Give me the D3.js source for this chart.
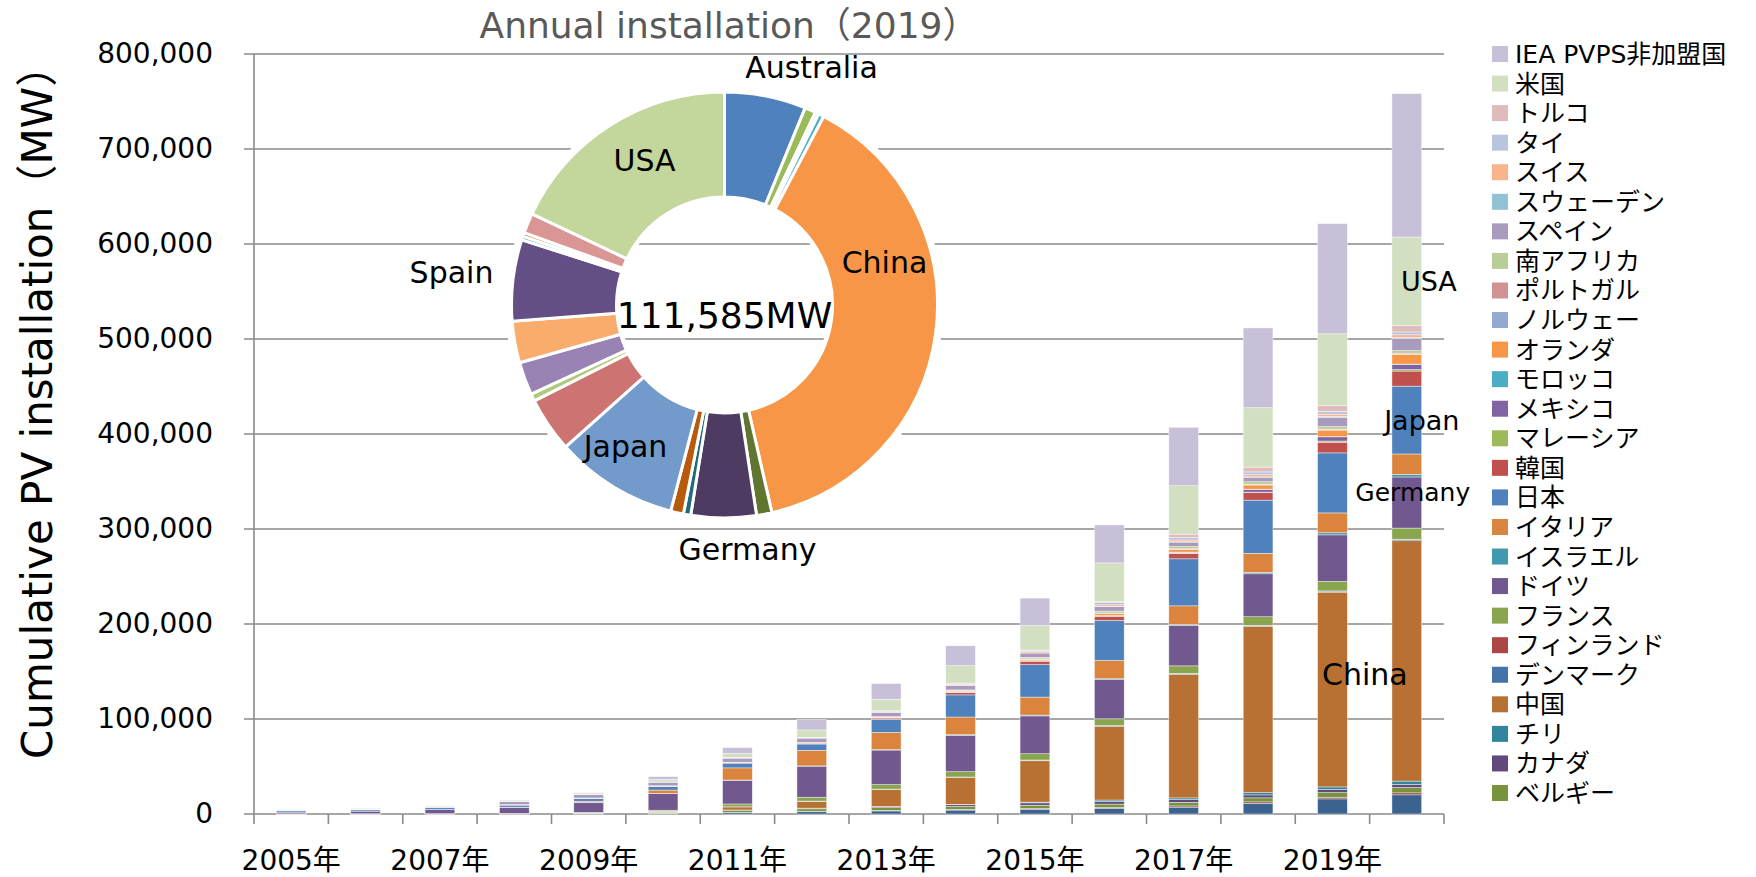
<!DOCTYPE html>
<html>
<head>
<meta charset="utf-8">
<script src="https://cdn.jsdelivr.net/npm/d3@7"></script>
<style>
  body { margin: 0; background: #fff; }
  svg text { font-family: "DejaVu Sans", "Noto Sans CJK JP", sans-serif; }
</style>
</head>
<body>
<div class="chart"></div>
<script>
// categories
var years = [2005, 2006, 2007, 2008, 2009, 2010, 2011, 2012, 2013, 2014, 2015, 2016, 2017, 2018, 2019, 2020];

// cumulative PV installation by country (MW)
var australia   = [60, 70, 80, 100, 190, 570, 1380, 2400, 3200, 4100, 5000, 5900, 7200, 11300, 15900, 20200];
var austria     = [20, 30, 30, 30, 50, 100, 190, 360, 630, 790, 940, 1100, 1270, 1450, 1700, 2040];
var belgium     = [2, 4, 20, 100, 650, 1050, 2100, 2650, 2900, 3000, 3250, 3400, 3800, 4250, 4900, 5600];
var canada      = [17, 20, 26, 33, 90, 280, 560, 770, 1200, 1840, 2500, 2700, 2900, 3100, 3300, 3300];
var chile       = [0, 0, 0, 0, 0, 0, 0, 0, 10, 400, 850, 1600, 1800, 2400, 2700, 3500];
var china       = [70, 80, 100, 140, 300, 800, 3300, 7000, 17700, 28200, 43500, 77400, 130000, 175000, 205000, 253000];
var denmark     = [3, 3, 3, 3, 5, 7, 17, 390, 560, 600, 780, 850, 900, 1000, 1100, 1300];
var finland     = [4, 5, 5, 6, 8, 10, 11, 11, 11, 15, 20, 40, 70, 140, 220, 320];
var france      = [30, 40, 70, 180, 370, 1200, 3000, 4100, 4700, 5600, 6600, 7200, 8000, 9000, 10000, 11700];
var germany     = [1900, 2900, 4200, 6100, 10600, 17600, 25000, 32700, 36400, 38200, 39800, 41200, 42400, 45200, 49000, 53800];
var israel      = [1, 1, 2, 3, 25, 70, 190, 240, 420, 730, 900, 970, 1070, 1440, 2200, 2600];
var italy       = [40, 50, 120, 460, 1200, 3500, 12800, 16400, 18200, 18600, 18900, 19300, 19700, 20100, 20900, 21600];
var japan       = [1420, 1710, 1920, 2140, 2630, 3620, 4910, 6630, 13600, 23300, 34200, 42000, 49500, 56000, 63200, 71400];
var korea       = [15, 36, 80, 360, 520, 650, 730, 1000, 1500, 2500, 3600, 4500, 5800, 7900, 11200, 15900];
var malaysia    = [0, 0, 0, 0, 1, 1, 10, 30, 140, 190, 280, 360, 390, 500, 1300, 1500];
var mexico      = [19, 20, 20, 20, 25, 30, 40, 50, 100, 180, 250, 390, 700, 3000, 4400, 5600];
var morocco     = [0, 0, 0, 0, 0, 0, 0, 0, 0, 0, 10, 20, 200, 200, 210, 300];
var netherlands = [50, 50, 50, 60, 70, 90, 150, 370, 740, 1050, 1500, 2100, 2900, 4400, 6900, 10200];
var norway      = [7, 8, 8, 8, 9, 9, 10, 10, 13, 15, 20, 27, 45, 70, 120, 160];
var portugal    = [3, 3, 15, 60, 100, 130, 150, 220, 280, 390, 450, 500, 580, 670, 900, 1100];
var southAfrica = [0, 0, 0, 0, 0, 0, 0, 0, 120, 900, 1400, 2000, 2300, 2600, 2600, 2700];
var spain       = [50, 150, 700, 3400, 3450, 3900, 4300, 4600, 4700, 4700, 4700, 4700, 4700, 4800, 9900, 12500];
var sweden      = [4, 5, 6, 8, 9, 11, 16, 24, 43, 79, 130, 200, 300, 430, 700, 1100];
var switzerland = [27, 30, 36, 48, 74, 110, 210, 440, 760, 1060, 1390, 1660, 1910, 2170, 2500, 3000];
var thailand    = [20, 30, 30, 30, 40, 50, 240, 380, 820, 1300, 1420, 2450, 2700, 2970, 3000, 3000];
var turkey      = [0, 0, 0, 0, 0, 0, 0, 10, 20, 40, 250, 830, 3400, 5060, 6000, 6700];
var usa         = [480, 620, 830, 1170, 1640, 2530, 4430, 7700, 12100, 18300, 25600, 40900, 51000, 62500, 75600, 93200];
var nonMember   = [360, 300, 200, 300, 500, 3000, 6200, 11000, 16500, 21000, 29000, 40000, 61500, 84000, 116000, 151000];

// series in stacking order (bottom first)
var seriesNames = ["オーストラリア", "オーストリア", "ベルギー", "カナダ", "チリ", "中国", "デンマーク", "フィンランド",
  "フランス", "ドイツ", "イスラエル", "イタリア", "日本", "韓国", "マレーシア", "メキシコ", "モロッコ", "オランダ",
  "ノルウェー", "ポルトガル", "南アフリカ", "スペイン", "スウェーデン", "スイス", "タイ", "トルコ", "米国", "IEA PVPS非加盟国"];
var seriesData = [australia, austria, belgium, canada, chile, china, denmark, finland, france, germany, israel, italy,
  japan, korea, malaysia, mexico, morocco, netherlands, norway, portugal, southAfrica, spain, sweden, switzerland,
  thailand, turkey, usa, nonMember];
var seriesColors = ["#3c6290", "#8f3c3a", "#77933c", "#604a7b", "#31859c", "#b97133", "#4572a7", "#aa4643",
  "#89a54e", "#71588f", "#4198af", "#db843d", "#4f81bd", "#c0504d", "#9bbb59", "#8064a2", "#4bacc6", "#f79646",
  "#93a9cf", "#d19392", "#b9cd96", "#a99bbd", "#92c3d4", "#f9b48e", "#b9c5de", "#e0bbbb", "#d3dfc1", "#c8c0d8"];

// annual installation 2019 (donut)
var pieNames = ["Australia", "Belgium", "Canada", "Chile", "China", "France", "Germany", "Israel", "Italy", "Japan",
  "Korea", "Malaysia", "Mexico", "Netherlands", "Spain", "Sweden", "Switzerland", "Turkey", "USA"];
var pieValues = [6900, 930, 310, 465, 43200, 1300, 5520, 620, 1085, 10420, 4650, 620, 2790, 3530, 6880, 310, 310, 1700, 20045];
var pieColors = ["#4f81bd", "#9bbb59", "#dbeef4", "#4bacc6", "#f79646", "#5f7530", "#4d3b62", "#216b7d", "#b75a0b",
  "#729acb", "#cd7371", "#afc97a", "#9983b5", "#f9ac6b", "#644e86", "#4bacc6", "#e46c0a", "#d99694", "#c3d69b"];
var pieTotal = "111,585MW";

// chart geometry
var svgWidth = 1756, svgHeight = 877;
var plot = {left: 254, right: 1444, top: 54, bottom: 814};
var donut = {cx: 724.5, cy: 305, outer: 213, inner: 108};

var svg = d3.select(".chart").append("svg")
  .attr("width", svgWidth)
  .attr("height", svgHeight);

var rows = years.map(function(yr, i) {
  var row = {year: yr};
  seriesData.forEach(function(arr, k) { row[k] = arr[i]; });
  return row;
});

var x = d3.scaleBand()
  .domain(years)
  .range([plot.left, plot.right])
  .paddingInner(0.6)
  .paddingOuter(0.3);

var y = d3.scaleLinear()
  .domain([0, 800000])
  .range([plot.bottom, plot.top]);

// gridlines
svg.append("g").selectAll("line")
  .data(y.ticks(8))
  .enter()
  .append("line")
  .attr("x1", plot.left - 10)
  .attr("x2", plot.right)
  .attr("y1", d => y(d))
  .attr("y2", d => y(d))
  .attr("stroke", "#8a8a8a")
  .attr("stroke-width", 1.6);

// y axis line
svg.append("line")
  .attr("x1", plot.left).attr("x2", plot.left)
  .attr("y1", plot.top).attr("y2", plot.bottom + 10)
  .attr("stroke", "#8a8a8a")
  .attr("stroke-width", 1.6);

// x tick marks between categories
var gap = (x.step() - x.bandwidth()) / 2;
svg.append("g").selectAll("line")
  .data(years.slice(1).concat(["end"]))
  .enter()
  .append("line")
  .attr("x1", d => d === "end" ? plot.right : x(d) - gap)
  .attr("x2", d => d === "end" ? plot.right : x(d) - gap)
  .attr("y1", plot.bottom)
  .attr("y2", plot.bottom + 10)
  .attr("stroke", "#8a8a8a")
  .attr("stroke-width", 1.6);

// y labels
var leftAxis = d3.axisLeft(y).ticks(8).tickSize(0).tickPadding(41).tickFormat(d3.format(","));
svg.append("g")
  .attr("transform", `translate(${plot.left},0)`)
  .call(leftAxis)
  .call(g => g.select(".domain").remove())
  .selectAll("text")
  .style("font-size", "28px")
  .attr("fill", "#000");

// x labels
var bottomAxis = d3.axisBottom(x)
  .tickValues(years.filter((d, i) => i % 2 === 0))
  .tickSize(0).tickPadding(36)
  .tickFormat(d => d + "年");
svg.append("g")
  .attr("transform", `translate(0,${plot.bottom})`)
  .call(bottomAxis)
  .call(g => g.select(".domain").remove())
  .selectAll("text")
  .style("font-size", "28px")
  .attr("fill", "#000");

// stacked bars
var stacked = d3.stack().keys(d3.range(seriesData.length))(rows);
svg.append("g").selectAll("g")
  .data(stacked)
  .enter()
  .append("g")
  .attr("fill", (d, i) => seriesColors[i])
  .selectAll("rect")
  .data(d => d)
  .enter()
  .append("rect")
  .attr("x", d => x(d.data.year))
  .attr("width", x.bandwidth())
  .attr("y", d => y(d[1]))
  .attr("height", d => y(d[0]) - y(d[1]))
  .attr("stroke", "#fff")
  .attr("stroke-opacity", 0.7)
  .attr("stroke-width", 0.6);

// labels on the 2020 bar
var lastYear = years[years.length - 1];
var barLabels = [
  {name: "米国", text: "USA", dx: 22, dy: 10, size: 27},
  {name: "日本", text: "Japan", dx: 15, dy: 10, size: 27},
  {name: "ドイツ", text: "Germany", dx: 6, dy: -2, size: 25},
  {name: "中国", text: "China", dx: -42, dy: 24, size: 30}
];
svg.append("g").selectAll("text")
  .data(barLabels)
  .enter()
  .append("text")
  .attr("x", d => x(lastYear) + x.bandwidth() / 2 + d.dx)
  .attr("y", d => {
    var seg = stacked[seriesNames.indexOf(d.name)][years.length - 1];
    return y((seg[0] + seg[1]) / 2) + d.dy;
  })
  .attr("text-anchor", "middle")
  .style("font-size", d => d.size + "px")
  .attr("fill", "#000")
  .text(d => d.text);

// donut chart
var arc = d3.arc().innerRadius(donut.inner).outerRadius(donut.outer);
var pieG = svg.append("g").attr("transform", `translate(${donut.cx},${donut.cy})`);

pieG.append("path")
  .attr("d", d3.arc().innerRadius(donut.inner - 3).outerRadius(donut.outer + 6)
    .startAngle(0).endAngle(2 * Math.PI)())
  .attr("fill", "#fff");

var pie = d3.pie().sort(null).value(d => d);
pieG.selectAll("path.slice")
  .data(pie(pieValues))
  .enter()
  .append("path")
  .attr("class", "slice")
  .attr("d", arc)
  .attr("fill", (d, i) => pieColors[i])
  .attr("stroke", "#fff")
  .attr("stroke-width", 3)
  .attr("stroke-linejoin", "round");

var pieLabels = [
  {text: "Australia", dx: 87, dy: -227},
  {text: "USA", dx: -80, dy: -134},
  {text: "China", dx: 160, dy: -32},
  {text: "Spain", dx: -273, dy: -22},
  {text: "Japan", dx: -99, dy: 152},
  {text: "Germany", dx: 23, dy: 255}
];
pieG.selectAll("text.plabel")
  .data(pieLabels)
  .enter()
  .append("text")
  .attr("class", "plabel")
  .attr("x", d => d.dx)
  .attr("y", d => d.dy)
  .attr("text-anchor", "middle")
  .style("font-size", "30px")
  .attr("fill", "#000")
  .text(d => d.text);

pieG.append("text")
  .attr("x", 0)
  .attr("y", 23)
  .attr("text-anchor", "middle")
  .style("font-size", "36px")
  .attr("fill", "#000")
  .text(pieTotal);

// donut title
svg.append("text")
  .attr("x", 729)
  .attr("y", 38)
  .attr("text-anchor", "middle")
  .style("font-size", "36px")
  .attr("fill", "#595959")
  .text("Annual installation（2019）");

// y axis title
svg.append("text")
  .attr("transform", "translate(52,759) rotate(-90)")
  .attr("text-anchor", "start")
  .style("font-size", "42px")
  .attr("fill", "#000")
  .text("Cumulative  PV installation（MW）");

// legend (top entry = last series)
var legendItems = d3.range(seriesNames.length - 1, 1, -1);
var legend = svg.append("g").selectAll("g")
  .data(legendItems)
  .enter()
  .append("g")
  .attr("transform", (d, i) => `translate(1492,${54 + i * 29.56})`);
legend.append("rect")
  .attr("x", 0).attr("y", -8)
  .attr("width", 16).attr("height", 16)
  .attr("fill", d => seriesColors[d]);
legend.append("text")
  .attr("x", 23).attr("y", 9)
  .style("font-size", "25px")
  .attr("fill", "#000")
  .text(d => seriesNames[d]);
</script>
</body>
</html>
